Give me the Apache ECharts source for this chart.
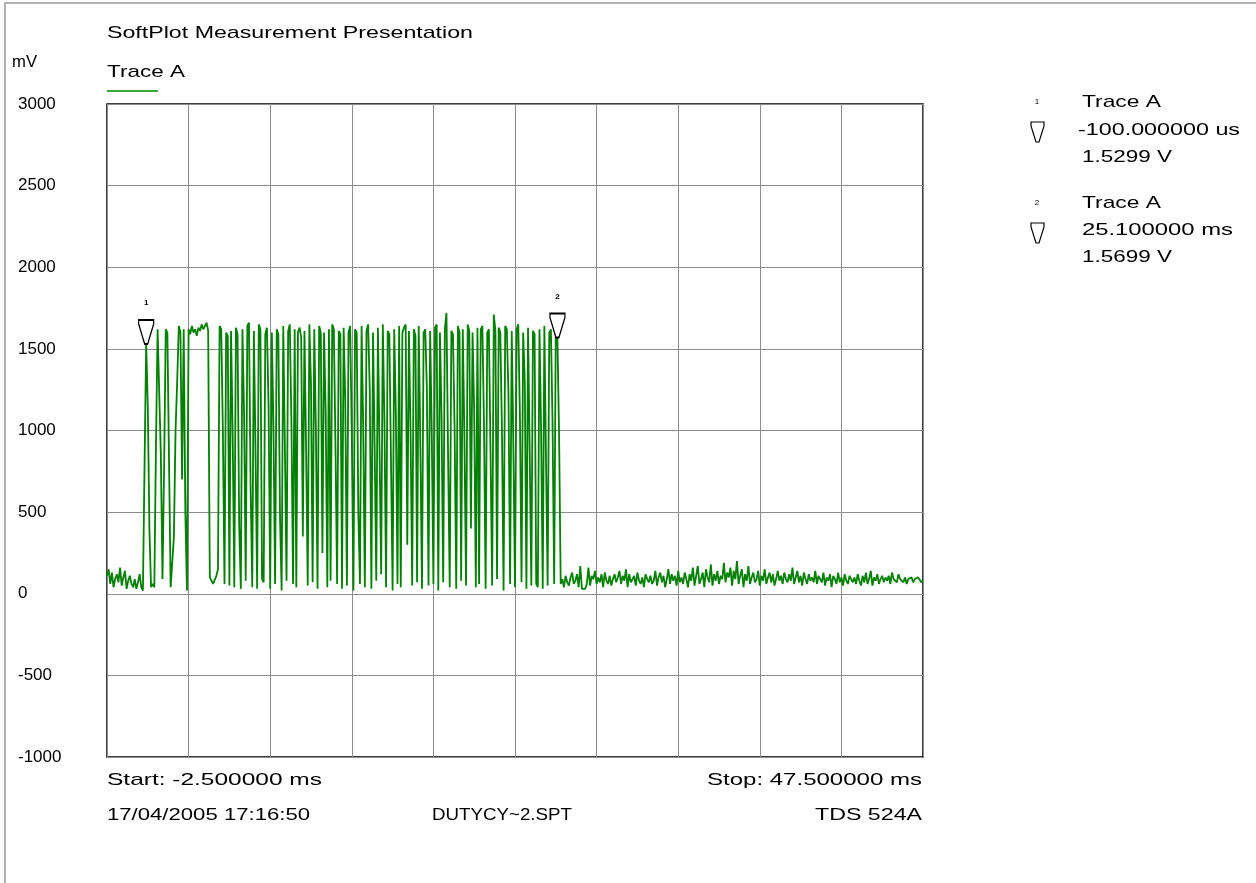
<!DOCTYPE html>
<html>
<head>
<meta charset="utf-8">
<script src="https://cdn.jsdelivr.net/npm/echarts@6/dist/echarts.min.js"></script>
<style>
    html, body { margin: 0; padding: 0; background: #fff; }
    #chart { width: 1256px; height: 883px; }
</style>
</head>
<body>
<div id="chart"></div>
<script>
// time base (ms)
var startTime = -2.5,
    stopTime = 47.5,
    sampleStep = 0.1;

// trace A samples in mV
var preNoise = [110, 150, 60, 130, 40, 90, 120, 70, 160, 50, 100, 140, 30, 80, 110, 60, 40, 90, 30, 70, 120, 40, 20];

var burst = [
    780, 1530, 1150, 390, 40, 60, 40, 900, 1620, 1610, 850, 90, 780, 1620, 1600, 820, 40, 40, 350, 1000,
    1300, 1640, 1600, 700, 1620, 500, 20, 1620, 1590, 1640, 1600, 1620, 1580, 1630, 1610, 1650, 1620, 1640, 1660, 1610,
    100, 80, 60, 50, 110, 150, 1640,
    1620, 1000, 60, 1600, 1580, 50, 1610, 980, 40, 1630, 1590, 420, 30, 1620, 1100, 80, 1640, 1660, 650, 40,
    1610, 880, 30, 1650, 1620, 90, 70, 1590, 1630, 1150, 30, 1600, 1010, 60, 1620, 1590, 480, 20, 1640, 900,
    80, 1610, 1650, 1050, 60, 1620, 40, 1600, 1630, 1570, 350, 1610, 880, 50, 1650, 1280, 70, 1620, 1000, 30,
    1640, 1600, 250, 1600, 1110, 40, 1620, 80, 1650, 1620, 900, 60, 1610, 1590, 30, 1630, 1180, 50, 1600, 1640,
    970, 20, 1620, 1600, 500, 60, 1640, 1010, 40, 1610, 1650, 1250, 30, 1600, 900, 80, 1630, 1620, 120, 1650,
    1060, 40, 1610, 1590, 820, 20, 1620, 1100, 60, 1640, 40, 1600, 1630, 1650, 300, 1610, 1000, 50, 1620, 1580,
    70, 1640, 920, 30, 1600, 1620, 1260, 50, 1610, 990, 60, 1630, 1650, 20, 1600, 1080, 70, 1620, 1720, 840,
    40, 1610, 1590, 1000, 30, 1640, 1600, 80, 1620, 960, 50, 1650, 1610, 400, 1600, 1110, 40, 1630, 60, 1620,
    1640, 1040, 30, 1600, 1620, 860, 50, 1710, 1610, 90, 1630, 1600, 1000, 20, 1640, 1620, 1220, 60, 1610, 900,
    40, 1620, 1650, 1100, 70, 1600, 1300, 30, 1630, 870, 50, 1610, 1590, 60, 40, 1620, 1000, 30, 1640, 820,
    50, 1600, 1620, 1050, 60, 1640, 1570, 980
];

var postNoise = [
    60, 90, 40, 110, 70, 50, 100, 130, 60, 80, 120, 40, 170, 30, 20, 30, 60, 160, 50, 110,
    90, 140, 60, 100, 70, 120, 40, 130, 80, 60, 110, 50, 90, 120, 70, 100, 140, 60, 110, 80,
    150, 40, 120, 70, 90, 110, 50, 130, 80, 60, 100, 40, 120, 90, 70, 110, 60, 80, 140, 50,
    100, 130, 70, 110, 40, 90, 150, 60, 120, 80, 110, 50, 140, 70, 100, 60, 130, 90, 40, 120,
    80, 160, 50, 110, 170, 60, 90, 130, 40, 150, 100, 70, 180, 50, 120, 80, 140, 60, 110, 90,
    190, 70, 130, 100, 160, 50, 140, 90, 200, 60, 110, 150, 40, 120, 80, 170, 60, 100, 130, 70,
    90, 140, 50, 110, 80, 150, 60, 100, 130, 70, 120, 50, 90, 140, 80, 110, 60, 130, 90, 70,
    120, 80, 160, 60, 100, 140, 70, 110, 50, 130, 90, 60, 120, 80, 100, 70, 140, 60, 110, 90,
    70, 130, 50, 100, 80, 120, 40, 110, 90, 60, 130, 70, 100, 50, 120, 80, 60, 110, 90, 70,
    100, 60, 120, 80, 50, 110, 70, 130, 60, 90, 140, 50, 100, 80, 120, 60, 90, 110, 70, 100,
    80, 110, 60, 130, 90, 100, 70, 120, 90, 80, 70, 100, 60, 90, 80, 100, 70, 90, 80, 100,
    90, 70, 80
];

// cursors
var markerTimes = [-0.1, 25.1],
    markerValues = [1529.9, 1569.9],
    markerLabels = ["1", "2"];

var yMin = -1000, yMax = 3000, yStep = 500;

var font = "Liberation Sans, Arial, sans-serif";
var fontSize = 17;
var traceColor = "#008000";

var samples = preNoise.concat(burst, postNoise);
var traceData = samples.map(function (v, i) {
    return [+(startTime + i * sampleStep).toFixed(2), v];
});

var cursorShape = "path://M0,0 L15,0 L15,4 L9,24 L6,24 L0,4 Z";

var chart = echarts.init(document.getElementById("chart"), null, {renderer: "canvas"});

// the original uses a wide bitmap font, so stretch each label to its width there
var measureCtx = document.createElement("canvas").getContext("2d");
function txt(x, y, s, align, width, size) {
    var f = (size || fontSize) + "px " + font;
    measureCtx.font = f;
    var sx = width ? width / measureCtx.measureText(s).width : 1;
    return {
        type: "text",
        x: x, y: y,
        scaleX: sx,
        style: {
            text: s,
            font: f,
            fill: "#000",
            align: align || "left",
            verticalAlign: "middle"
        }
    };
}
// small cursor glyph for the readout column
function cursorGlyph(x, y) {
    return {
        type: "polygon",
        shape: {points: [[x, y], [x + 13, y], [x + 13, y + 4], [x + 8, y + 20], [x + 5, y + 20], [x, y + 4]]},
        style: {fill: "#fff", stroke: "#000", lineWidth: 1.2}
    };
}

chart.setOption({
    animation: false,
    backgroundColor: "#fff",
    grid: {
        left: 107, top: 104, width: 816, height: 653,
        show: true, borderColor: "#000", borderWidth: 1.5
    },
    xAxis: {
        type: "value",
        min: startTime, max: stopTime, interval: 5,
        axisLine: {show: false},
        axisTick: {show: false},
        axisLabel: {show: false},
        splitLine: {lineStyle: {color: "#8c8c8c", width: 1}}
    },
    yAxis: {
        type: "value",
        min: yMin, max: yMax, interval: yStep,
        axisLine: {show: false},
        axisTick: {show: false},
        axisLabel: {
            align: "left", margin: 89,
            fontFamily: font, fontSize: fontSize, color: "#000",
            formatter: function (v) { return String(v); }
        },
        splitLine: {lineStyle: {color: "#8c8c8c", width: 1}}
    },
    series: [{
        name: "Trace A",
        type: "line",
        data: traceData,
        showSymbol: false,
        lineStyle: {color: traceColor, width: 1.8},
        markPoint: {
            symbol: cursorShape,
            symbolSize: [15, 24],
            symbolOffset: [0, -12],
            itemStyle: {color: "#fff", borderColor: "#000", borderWidth: 1.5},
            label: {
                show: true, position: "top", distance: 12,
                fontFamily: font, fontSize: 8, fontWeight: "bold", color: "#000"
            },
            data: markerTimes.map(function (t, i) {
                return {coord: [t, markerValues[i]], label: {formatter: markerLabels[i]}};
            })
        }
    }],
    graphic: [
        {type: "rect", shape: {x: 5, y: 3, width: 1260, height: 900},
            style: {fill: null, stroke: "#9a9a9a", lineWidth: 1.5}, silent: true},
        txt(107, 33, "SoftPlot Measurement Presentation", "left", 366),
        txt(12, 62, "mV", "left", 25),
        txt(107, 72, "Trace A", "left", 78),
        {type: "line", shape: {x1: 107, y1: 91, x2: 158, y2: 91},
            style: {stroke: "#3aa83a", lineWidth: 2}},
        txt(107, 780, "Start: -2.500000 ms", "left", 215),
        txt(922, 780, "Stop: 47.500000 ms", "right", 215),
        txt(107, 815, "17/04/2005 17:16:50", "left", 203),
        txt(432, 815, "DUTYCY~2.SPT", "left", 140),
        txt(922, 815, "TDS 524A", "right", 107),
        // cursor readouts
        txt(1037, 102, "1", "center", 0, 8),
        txt(1082, 102, "Trace A", "left", 79),
        cursorGlyph(1031, 122),
        txt(1078, 130, "-100.000000 us", "left", 162),
        txt(1082, 157, "1.5299 V", "left", 90),
        txt(1037, 203, "2", "center", 0, 8),
        txt(1082, 203, "Trace A", "left", 79),
        cursorGlyph(1031, 223),
        txt(1082, 230, "25.100000 ms", "left", 151),
        txt(1082, 257, "1.5699 V", "left", 90)
    ]
});
</script>
</body>
</html>
